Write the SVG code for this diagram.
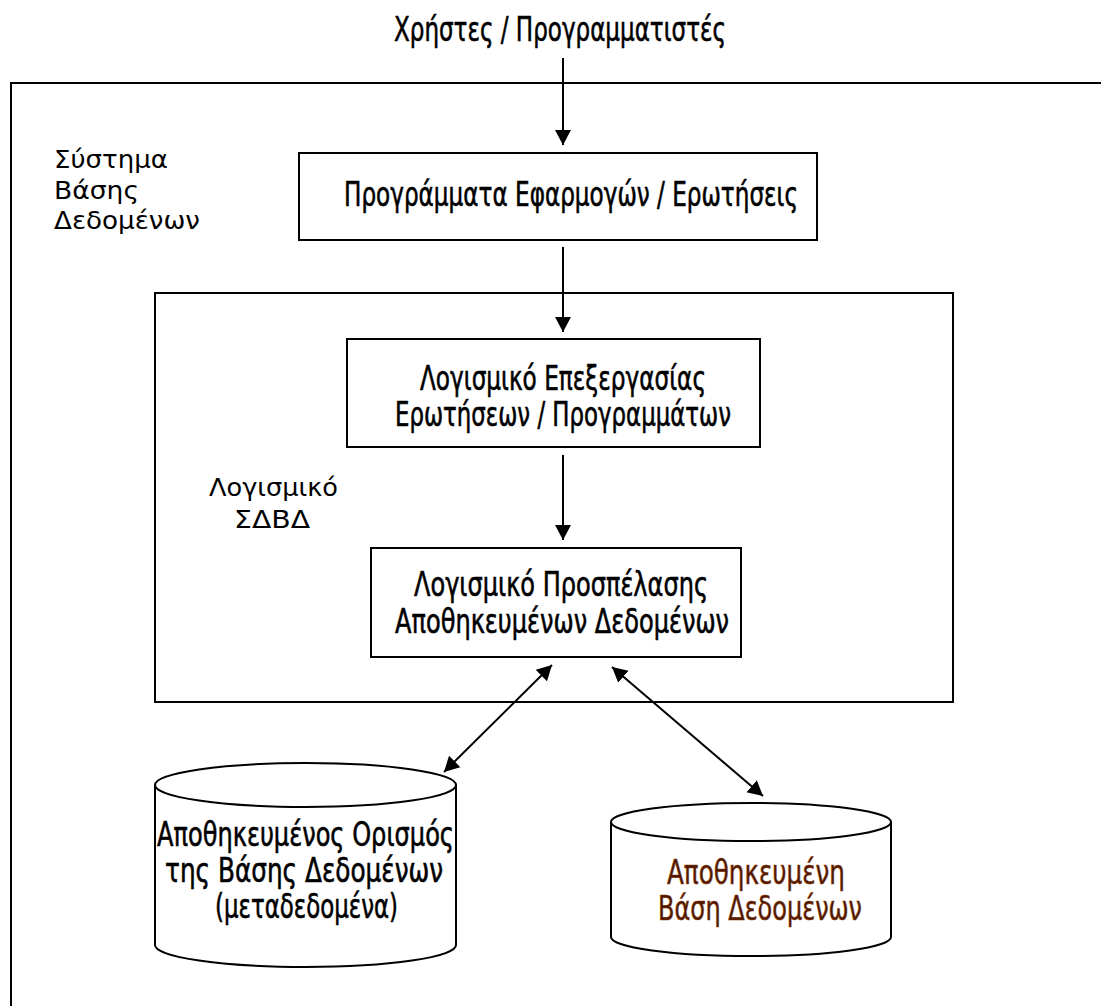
<svg xmlns="http://www.w3.org/2000/svg" width="1101" height="1006" viewBox="0 0 1101 1006">
  <style>
    .frame { fill: none; stroke: #000; stroke-width: 2; }
    .box { fill: #fff; stroke: #000; stroke-width: 2; }
    .link { fill: none; stroke: #000; stroke-width: 2; }
    .lbl { font-family: "DejaVu Sans", "Liberation Sans", sans-serif; font-size: 33px; fill: #000; stroke: #000; stroke-width: 0.6px; }
    .side { font-family: "DejaVu Sans", "Liberation Sans", sans-serif; font-size: 25px; fill: #000; }
    .store { fill: #4e1800; stroke: #8a3a0a; }
  </style>
  <defs>
    <marker id="head" markerUnits="userSpaceOnUse" markerWidth="16" markerHeight="18" viewBox="0 -9 16 18" refX="15" refY="0" orient="auto-start-reverse">
      <path d="M0,-8 L15,0 L0,8 Z" fill="#000"/>
    </marker>
  </defs>

  <rect width="1101" height="1006" fill="#fff"/>

  <!-- database system frame (open on right and bottom) -->
  <g id="db-system">
    <path class="frame" d="M1101,83 L11,83 L11,1006" stroke="#222" stroke-width="2.5"/>
    <text class="side" x="54" y="168" textLength="114" lengthAdjust="spacingAndGlyphs">Σύστημα</text>
    <text class="side" x="54" y="199" textLength="85" lengthAdjust="spacingAndGlyphs">Βάσης</text>
    <text class="side" x="54" y="229" textLength="146" lengthAdjust="spacingAndGlyphs">Δεδομένων</text>
  </g>

  <!-- users label -->
  <g id="users">
    <text class="lbl" x="394" y="41" textLength="332" lengthAdjust="spacingAndGlyphs">Χρήστες / Προγραμματιστές</text>
  </g>

  <!-- application programs / queries -->
  <g id="apps">
    <rect class="box" x="299" y="153" width="518" height="87"/>
    <text class="lbl" x="344" y="206" textLength="454" lengthAdjust="spacingAndGlyphs">Προγράμματα Εφαρμογών / Ερωτήσεις</text>
  </g>

  <!-- DBMS software container -->
  <g id="dbms">
    <rect class="box" x="155" y="293" width="798" height="409" fill="none"/>
    <text class="side" x="209" y="496" textLength="129" lengthAdjust="spacingAndGlyphs">Λογισμικό</text>
    <text class="side" x="234" y="528" textLength="76" lengthAdjust="spacingAndGlyphs">ΣΔΒΔ</text>
  </g>

  <!-- query / program processing software -->
  <g id="query-processor">
    <rect class="box" x="347" y="339" width="413" height="108"/>
    <text class="lbl" x="420" y="390" textLength="286" lengthAdjust="spacingAndGlyphs">Λογισμικό Επεξεργασίας</text>
    <text class="lbl" x="395" y="426" textLength="336" lengthAdjust="spacingAndGlyphs">Ερωτήσεων / Προγραμμάτων</text>
  </g>

  <!-- stored data access software -->
  <g id="data-access">
    <rect class="box" x="371" y="548" width="370" height="109"/>
    <text class="lbl" x="414" y="596" textLength="294" lengthAdjust="spacingAndGlyphs">Λογισμικό Προσπέλασης</text>
    <text class="lbl" x="395" y="633" textLength="334" lengthAdjust="spacingAndGlyphs">Αποθηκευμένων Δεδομένων</text>
  </g>

  <!-- stored database definition (metadata) -->
  <g id="catalog">
    <path class="box" d="M155,785 L155,945 A150.5,22 0 0 0 456,945 L456,785"/>
    <ellipse class="box" cx="305.5" cy="785" rx="150.5" ry="22"/>
    <text class="lbl" x="157" y="846" textLength="297" lengthAdjust="spacingAndGlyphs">Αποθηκευμένος Ορισμός</text>
    <text class="lbl" x="165" y="882" textLength="278" lengthAdjust="spacingAndGlyphs">της Βάσης Δεδομένων</text>
    <text class="lbl" x="215" y="918" textLength="183" lengthAdjust="spacingAndGlyphs">(μεταδεδομένα)</text>
  </g>

  <!-- stored database -->
  <g id="stored-db">
    <path class="box" d="M611,822 L611,937 A140,19 0 0 0 891,937 L891,822"/>
    <ellipse class="box" cx="751" cy="822" rx="140" ry="19"/>
    <text class="lbl store" x="667" y="884" textLength="178" lengthAdjust="spacingAndGlyphs">Αποθηκευμένη</text>
    <text class="lbl store" x="658" y="920" textLength="204" lengthAdjust="spacingAndGlyphs">Βάση Δεδομένων</text>
  </g>

  <!-- connectors -->
  <g id="connectors">
    <line class="link" x1="563" y1="58" x2="563" y2="145" marker-end="url(#head)"/>
    <line class="link" x1="563" y1="247" x2="563" y2="332" marker-end="url(#head)"/>
    <line class="link" x1="563" y1="455" x2="563" y2="540" marker-end="url(#head)"/>
    <line class="link" x1="552" y1="665" x2="444" y2="772" marker-start="url(#head)" marker-end="url(#head)"/>
    <line class="link" x1="612" y1="667" x2="763" y2="796" marker-start="url(#head)" marker-end="url(#head)"/>
  </g>
</svg>
